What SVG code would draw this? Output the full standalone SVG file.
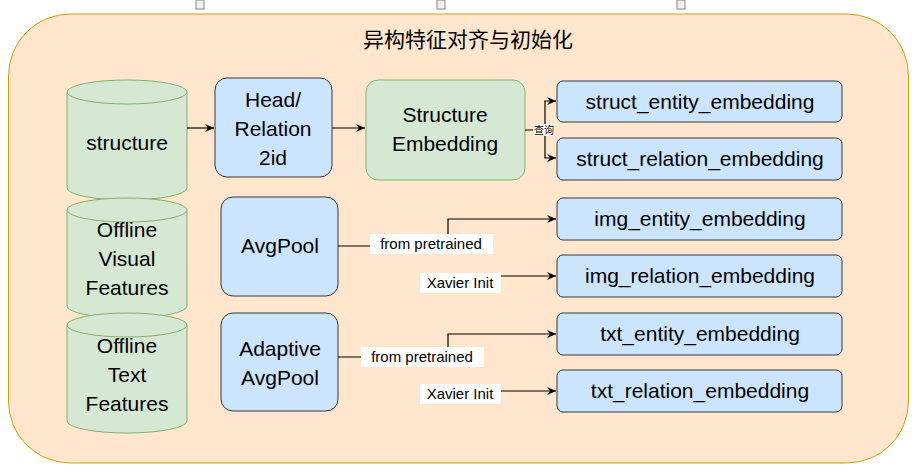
<svg xmlns="http://www.w3.org/2000/svg" width="923" height="473" viewBox="0 0 923 473">
<defs>
<style>
text{font-family:"Liberation Sans",Arial,sans-serif;fill:#000}
.t{font-size:21px;text-anchor:middle}
.cyl{fill:#d5e8d4;stroke:#82b366;stroke-width:1}
.g{fill:#d5e8d4;stroke:#82b366}
.b{fill:#cce5ff;stroke:#36393d}
.c{fill:none;stroke:#000;stroke-width:1.2}
.lb{font-size:15px;text-anchor:middle}
.h{fill:#f0f0f0;stroke:#888}
</style>
<marker id="a" markerWidth="10" markerHeight="10" refX="9" refY="5" orient="auto" markerUnits="userSpaceOnUse"><path d="M0,1 L9,5 L0,9 L3,5z" fill="#000"/></marker>
</defs>
<rect class="h" x="196" y="0" width="8" height="9"/>
<rect class="h" x="437" y="0" width="8" height="9"/>
<rect class="h" x="677" y="0" width="8" height="9"/>
<g id="container">
<rect x="8.5" y="14" width="900" height="449" rx="62" ry="62" fill="#ffe6cc" stroke="#d79b00"/>
<text x="468" y="47" style="font-size:21px;text-anchor:middle;font-family:'Noto Sans CJK SC',sans-serif">异构特征对齐与初始化</text>
</g>
<g id="structure">
<path class="cyl" d="M67,92 v96 a60,12 0 0 0 120,0 v-96"/>
<ellipse class="cyl" cx="127" cy="92" rx="60" ry="12"/>
<text class="t" x="127" y="150">structure</text>
</g>
<g id="visual">
<path class="cyl" d="M67,210 v96 a60,12 0 0 0 120,0 v-96"/>
<ellipse class="cyl" cx="127" cy="210" rx="60" ry="12"/>
<text class="t" x="127" y="237">Offline</text><text class="t" x="127" y="266">Visual</text><text class="t" x="127" y="295">Features</text>
</g>
<g id="textf">
<path class="cyl" d="M67,325 v96 a60,12 0 0 0 120,0 v-96"/>
<ellipse class="cyl" cx="127" cy="325" rx="60" ry="12"/>
<text class="t" x="127" y="353">Offline</text><text class="t" x="127" y="382">Text</text><text class="t" x="127" y="411">Features</text>
</g>
<g id="head"><rect class="b" x="215" y="78" width="117" height="99" rx="12"/>
<text class="t" x="273" y="107">Head/</text><text class="t" x="273" y="136">Relation</text><text class="t" x="273" y="165">2id</text></g>
<g id="sembed"><rect class="g" x="366" y="80" width="159" height="100" rx="12"/>
<text class="t" x="445" y="122">Structure</text><text class="t" x="445" y="151">Embedding</text></g>
<g id="avgpool"><rect class="b" x="221" y="197" width="117" height="99" rx="12"/>
<text class="t" x="280" y="253">AvgPool</text></g>
<g id="adaptive"><rect class="b" x="221" y="313" width="117" height="98" rx="12"/>
<text class="t" x="280" y="356">Adaptive</text><text class="t" x="280" y="385">AvgPool</text></g>
<g id="se"><rect class="b" x="557" y="81" width="285" height="41" rx="6"/><text class="t" x="700" y="109">struct_entity_embedding</text></g>
<g id="sr"><rect class="b" x="557" y="138" width="285" height="42" rx="6"/><text class="t" x="700" y="166">struct_relation_embedding</text></g>
<g id="ie"><rect class="b" x="557" y="198" width="285" height="42" rx="6"/><text class="t" x="700" y="226">img_entity_embedding</text></g>
<g id="ir"><rect class="b" x="557" y="255" width="285" height="42" rx="6"/><text class="t" x="700" y="283">img_relation_embedding</text></g>
<g id="te"><rect class="b" x="557" y="313" width="285" height="42" rx="6"/><text class="t" x="700" y="341">txt_entity_embedding</text></g>
<g id="tr"><rect class="b" x="557" y="370" width="285" height="42" rx="6"/><text class="t" x="700" y="398">txt_relation_embedding</text></g>
<g id="connectors">
<path class="c" d="M187,128 H214" marker-end="url(#a)"/>
<path class="c" d="M332,128 H365" marker-end="url(#a)"/>
<path class="c" d="M525,130 H545 V101 H556" marker-end="url(#a)"/>
<path class="c" d="M545,130 V158 H556" marker-end="url(#a)"/>
<rect x="533" y="124" width="22" height="12" fill="#fff"/>
<text x="544" y="134" style="font-size:10px;text-anchor:middle;font-family:'Noto Sans CJK SC',sans-serif">查询</text>
<path class="c" d="M338,246 H448 V219 H556" marker-end="url(#a)"/>
<rect x="370" y="234" width="123" height="20" fill="#fff"/>
<text class="lb" x="431" y="249">from pretrained</text>
<path class="c" d="M500,276 H556" marker-end="url(#a)"/>
<rect x="420" y="273" width="81" height="20" fill="#fff"/>
<text class="lb" x="460" y="288">Xavier Init</text>
<path class="c" d="M338,357 H448 V334 H556" marker-end="url(#a)"/>
<rect x="361" y="347" width="123" height="20" fill="#fff"/>
<text class="lb" x="422" y="362">from pretrained</text>
<path class="c" d="M500,391 H556" marker-end="url(#a)"/>
<rect x="420" y="384" width="81" height="20" fill="#fff"/>
<text class="lb" x="460" y="399">Xavier Init</text>
</g>
</svg>
